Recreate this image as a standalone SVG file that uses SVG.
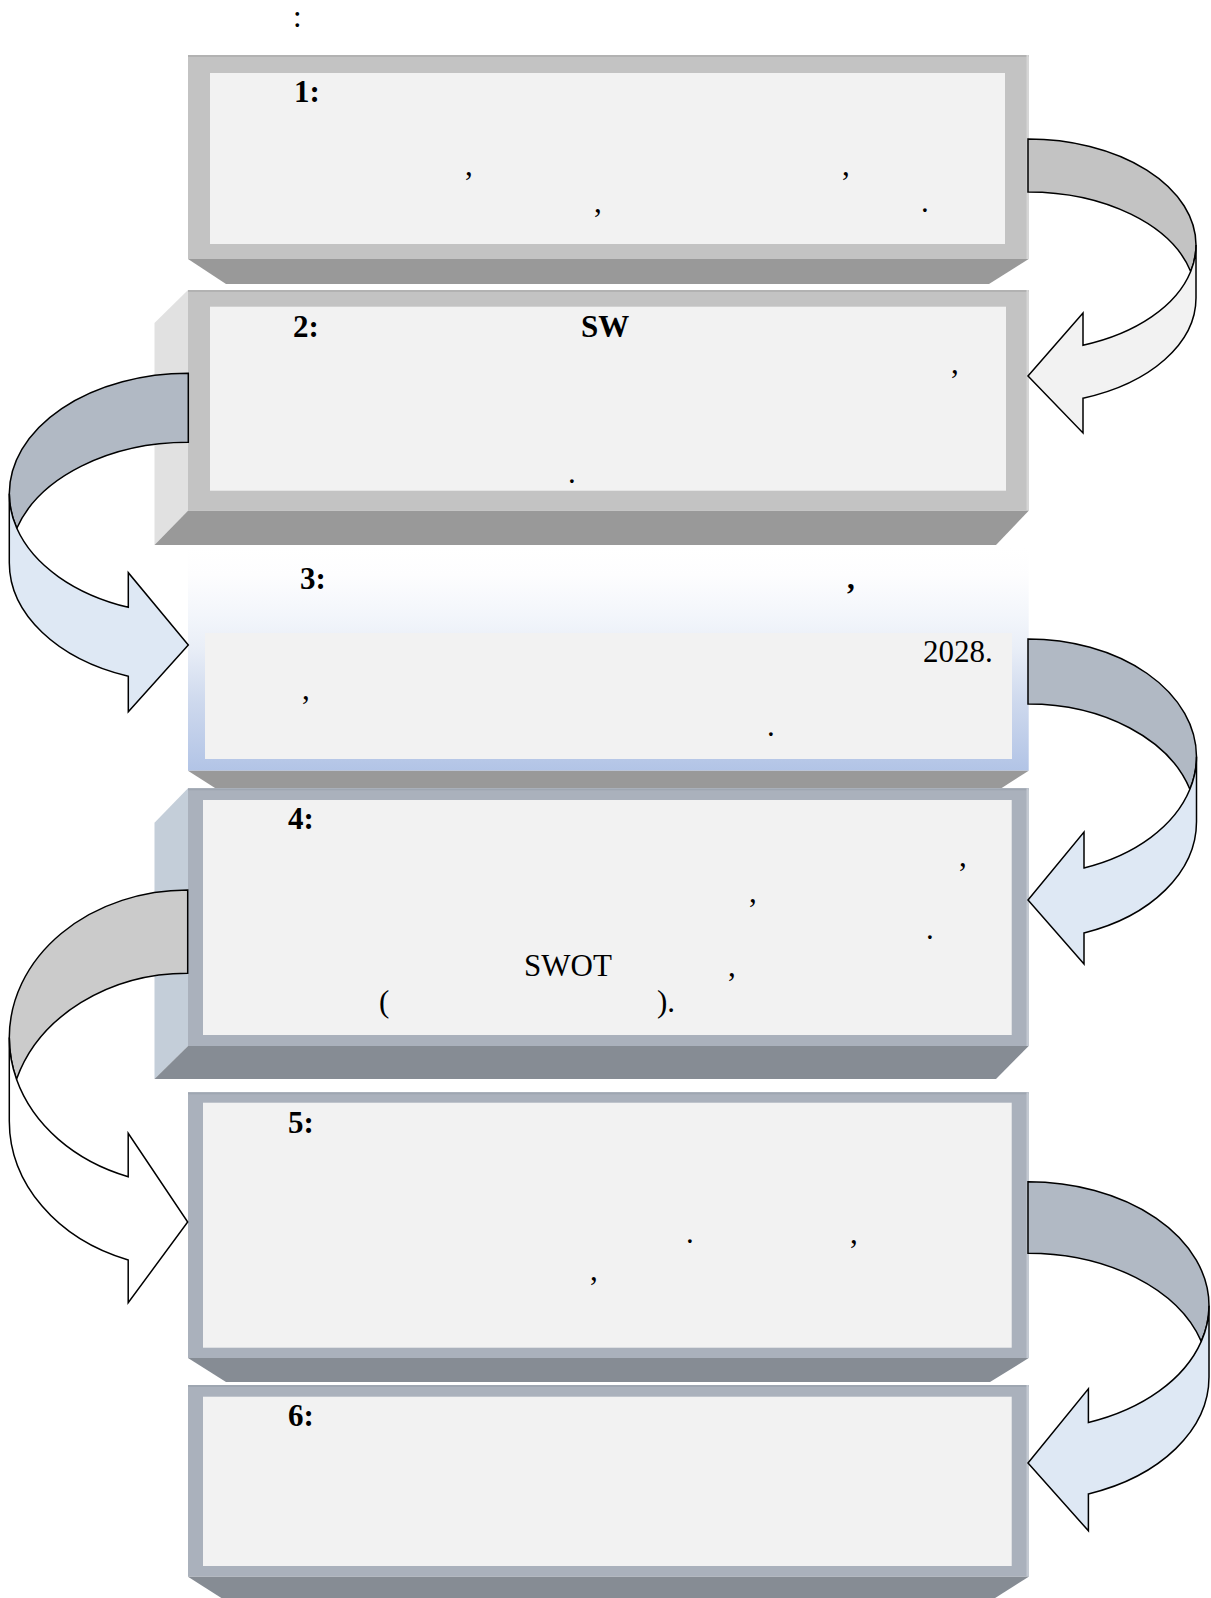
<svg xmlns="http://www.w3.org/2000/svg" width="1211" height="1598" viewBox="0 0 1211 1598">
<defs>
<style>
text{font-family:"Liberation Serif","Times New Roman",serif;font-size:31px;fill:#000}
.b{font-weight:bold}
.inner{fill:#f2f2f2}
.fg{fill:#c3c3c3}
.fb{fill:#aab1bc}
.bg{fill:#999999}
.bb{fill:#868c94}
.arr{stroke:#000;stroke-width:1.5;stroke-linejoin:miter}
.dk1{fill:#c3c3c3}
.lt1{fill:#f2f2f2}
.dk2{fill:#b1b9c4}
.lt2{fill:#dee8f4}
.dk3{fill:#cbcbcb}
.lt3{fill:#ffffff}
</style>
<linearGradient id="g3" x1="0" y1="0" x2="0" y2="1">
<stop offset="0" stop-color="#ffffff"/>
<stop offset="0.12" stop-color="#fdfdfe"/>
<stop offset="0.3" stop-color="#f3f6fb"/>
<stop offset="0.45" stop-color="#e9eef7"/>
<stop offset="0.7" stop-color="#cdd8ed"/>
<stop offset="1" stop-color="#b2c4e6"/>
</linearGradient>
</defs>
<rect width="1211" height="1598" fill="#ffffff"/>
<text x="293" y="27">:</text>

<g id="node1">
<rect class="fg" x="188" y="55" width="840.7" height="204"/>
<rect x="188" y="55" width="840.7" height="2" fill="#b2b2b2"/>
<rect x="1026.5" y="55" width="2.2" height="204" fill="#d6d6d6"/>
<rect class="inner" x="210" y="73" width="795" height="171"/>
<polygon class="bg" points="188,259 1028.7,259 989,284 226,284"/>
<text class="b" x="294" y="102">1:</text>
<text x="465" y="175">,</text>
<text x="842" y="175">,</text>
<text x="594" y="212">,</text>
<text x="921" y="212">.</text>
</g>

<g id="node2">
<polygon fill="#e1e1e1" points="154.5,323 188,290 188,511 154.5,545"/>
<rect class="fg" x="188" y="290" width="840.7" height="220.7"/>
<rect x="188" y="290" width="840.7" height="2" fill="#b2b2b2"/>
<rect x="1026.5" y="290" width="2.2" height="220.7" fill="#d6d6d6"/>
<rect class="inner" x="210" y="306.7" width="796" height="184"/>
<polygon class="bg" points="188,510.7 1028.7,510.7 996,545 154.5,545"/>
<text class="b" x="293" y="337">2:</text>
<text class="b" x="581" y="337">SW</text>
<text x="951" y="373">,</text>
<text x="568" y="483">.</text>
</g>

<g id="node3">
<rect x="188" y="548" width="840.7" height="222.7" fill="url(#g3)"/>
<rect class="inner" x="205" y="633" width="807" height="126"/>
<polygon class="bg" points="188,770.7 1028.7,770.7 1001.7,788 215,788"/>
<text class="b" x="300" y="589">3:</text>
<text class="b" x="847" y="589">,</text>
<text x="923" y="662">2028.</text>
<text x="302" y="699">,</text>
<text x="767" y="736">.</text>
</g>

<g id="node4">
<polygon fill="#c4ced9" points="154.5,822.7 188,788.3 188,1046 154.5,1079"/>
<rect class="fb" x="188" y="788.3" width="840.7" height="257.7"/>
<rect x="188" y="788.3" width="840.7" height="2" fill="#9ea6b1"/>
<rect x="1026.5" y="788.3" width="2.2" height="257.7" fill="#c3c9d2"/>
<rect class="inner" x="203" y="800" width="808.7" height="235"/>
<polygon class="bb" points="188,1046 1028.7,1046 996,1079 154.5,1079"/>
<text class="b" x="288" y="829">4:</text>
<text x="959" y="866">,</text>
<text x="749" y="902">,</text>
<text x="926" y="939">.</text>
<text x="524" y="976">SWOT</text>
<text x="728" y="976">,</text>
<text x="379" y="1012">(</text>
<text x="657" y="1012">).</text>
</g>

<g id="node5">
<rect class="fb" x="188" y="1092.3" width="840.7" height="265.7"/>
<rect x="188" y="1092.3" width="840.7" height="2" fill="#9ea6b1"/>
<rect x="1026.5" y="1092.3" width="2.2" height="265.7" fill="#c3c9d2"/>
<rect class="inner" x="203" y="1102.7" width="808.7" height="245"/>
<polygon class="bb" points="188,1358 1028.7,1358 990,1382 226,1382"/>
<text class="b" x="288" y="1133">5:</text>
<text x="686" y="1243">.</text>
<text x="850" y="1243">,</text>
<text x="590" y="1280">,</text>
</g>

<g id="node6">
<rect class="fb" x="188" y="1385" width="840.7" height="191.7"/>
<rect x="188" y="1385" width="840.7" height="2" fill="#9ea6b1"/>
<rect x="1026.5" y="1385" width="2.2" height="191.7" fill="#c3c9d2"/>
<rect class="inner" x="203" y="1396.7" width="808.7" height="169.3"/>
<polygon class="bb" points="188,1576.7 1028.7,1576.7 992,1600 224.5,1600"/>
<text class="b" x="288" y="1426">6:</text>
</g>

<g id="connectors">
<g id="arrow-1-2">
<path class="arr dk1" d="M 1028,139 A 168 106 0 0 1 1196,245 A 168 106 0 0 1 1190.7,271.5 A 168 106 0 0 0 1028,192 Z"/>
<path class="arr lt1" d="M 1190.7,271.5 A 168 106 0 0 0 1196,245 L 1196,298 A 168 106 0 0 1 1083,398.2 L 1083,433 L 1028,376 L 1083,313 L 1083,345.2 A 168 106 0 0 0 1190.7,271.5 Z"/>
</g>
<g id="arrow-2-3">
<path class="arr dk2" d="M 188.3,373.3 A 179 120.5 0 0 0 9.3,493.8 A 179 120.5 0 0 0 16.8,528.3 A 179 120.5 0 0 1 188.3,442.3 Z"/>
<path class="arr lt2" d="M 16.8,528.3 A 179 120.5 0 0 1 9.3,493.8 L 9.3,562.8 A 179 120.5 0 0 0 128.3,676.3 L 128.3,711.7 L 188.3,645 L 128.3,572.7 L 128.3,607.3 A 179 120.5 0 0 1 16.8,528.3 Z"/>
</g>
<g id="arrow-3-4">
<path class="arr dk2" d="M 1028,639 A 168.5 117.8 0 0 1 1196.5,756.8 A 168.5 117.8 0 0 1 1189.9,789.3 A 168.5 117.8 0 0 0 1028,704 Z"/>
<path class="arr lt2" d="M 1189.9,789.3 A 168.5 117.8 0 0 0 1196.5,756.8 L 1196.5,821.8 A 168.5 117.8 0 0 1 1084,932.9 L 1084,964 L 1028,900 L 1084,832 L 1084,867.9 A 168.5 117.8 0 0 0 1189.9,789.3 Z"/>
</g>
<g id="arrow-4-5">
<path class="arr dk3" d="M 187.7,890 A 178.4 147.6 0 0 0 9.3,1037.6 A 178.4 147.6 0 0 0 16.5,1079.3 A 178.4 147.6 0 0 1 187.7,973.3 Z"/>
<path class="arr lt3" d="M 16.5,1079.3 A 178.4 147.6 0 0 1 9.3,1037.6 L 9.3,1120.9 A 178.4 147.6 0 0 0 128.2,1260 L 128.2,1302.7 L 187.7,1222 L 128.2,1133.3 L 128.2,1176.7 A 178.4 147.6 0 0 1 16.5,1079.3 Z"/>
</g>
<g id="arrow-5-6">
<path class="arr dk2" d="M 1028,1181.8 A 181 123.9 0 0 1 1209,1305.7 A 181 123.9 0 0 1 1201.3,1341.4 A 181 123.9 0 0 0 1028,1253.2 Z"/>
<path class="arr lt2" d="M 1201.3,1341.4 A 181 123.9 0 0 0 1209,1305.7 L 1209,1377.1 A 181 123.9 0 0 1 1088.4,1493.9 L 1088.4,1530.8 L 1028,1463 L 1088.4,1388.8 L 1088.4,1422.5 A 181 123.9 0 0 0 1201.3,1341.4 Z"/>
</g>
</g>
</svg>
